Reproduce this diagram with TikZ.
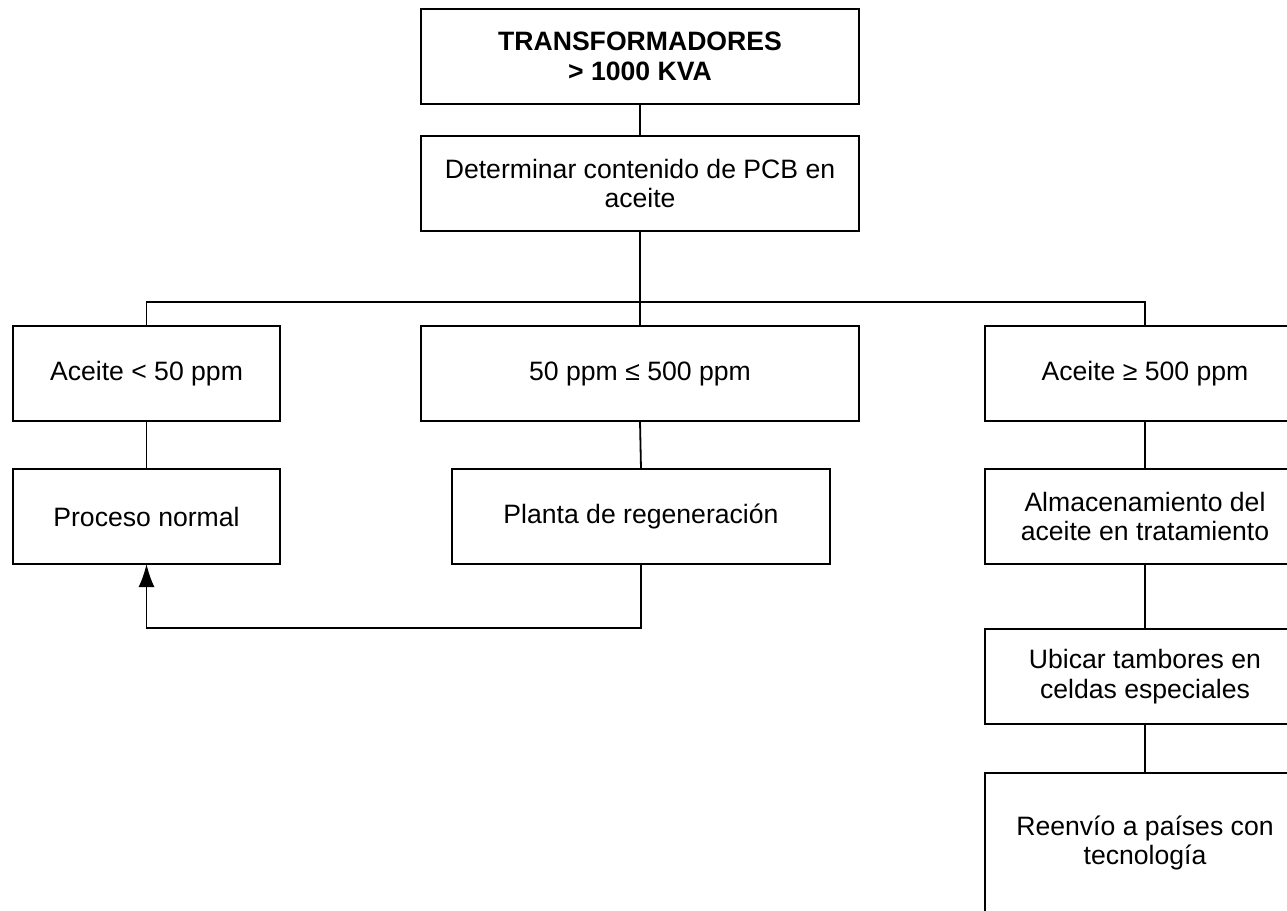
\documentclass[tikz,border=0pt]{standalone}
\usepackage{fontspec}
\setmainfont{Liberation Sans}
\usetikzlibrary{arrows.meta,positioning}

\begin{document}
\begin{tikzpicture}[x=0.5pt, y=-0.5pt,
        box/.style={rectangle, draw=black, line width=1pt, minimum height=47.5pt, align=center, inner sep=2pt, outer sep=0pt, font=\fontsize{13.3}{14.8}\selectfont},
        wide/.style={box, minimum width=219pt},
        narrow/.style={box, minimum width=133.5pt},
        side/.style={box, minimum width=160pt},
        link/.style={line width=0.9pt},
        arrow/.style={-{Latex[length=11.5pt, width=8pt]}, line width=0.9pt}]

        \useasboundingbox (0,0) rectangle (1287,911);

        \node[wide, font=\fontsize{13.3}{14.8}\selectfont\bfseries] (trafo) at (640,56.5) {TRANSFORMADORES\\> 1000 KVA};
        \node[wide] (pcb) at (640,183.5) {Determinar contenido de PCB en\\aceite};
        \node[narrow] (bajo) at (146.5,373.5) {Aceite < 50 ppm};
        \node[wide] (medio) at (640,373.5) {50 ppm ≤ 500 ppm};
        \node[side] (alto) at (1145,373.5) {Aceite ≥ 500 ppm};
        \node[narrow] (normal) at (146.5,516.5) {Proceso normal};
        \node[box, minimum width=189pt] (planta) at (641,516.5) {Planta de regeneración};
        \node[side] (almacen) at (1145,516.5) {Almacenamiento del\\aceite en tratamiento};
        \node[side] (ubicar) at (1145,676.5) {Ubicar tambores en\\celdas especiales};
        \node[side, minimum height=70pt] (reenvio) at (1145,843) {Reenvío a países con\\tecnología};

        \coordinate (bus) at (640,302);
        \coordinate (ret) at (641,628);

        \draw[link] (trafo) -- (pcb);
        \draw[link] (pcb) -- (bus);
        \draw[link] (bajo.north) |- (bus) -| (alto.north);
        \draw[link] (bus) -- (medio);
        \draw[link] (bajo) -- (normal);
        \draw[link] (medio.south) -- (planta.north);
        \draw[link] (alto) -- (almacen);
        \draw[link] (almacen) -- (ubicar);
        \draw[link] (ubicar) -- (reenvio);
        \draw[arrow] (planta.south) -- (ret) -| (normal.south);

    \end{tikzpicture}
\end{document}
